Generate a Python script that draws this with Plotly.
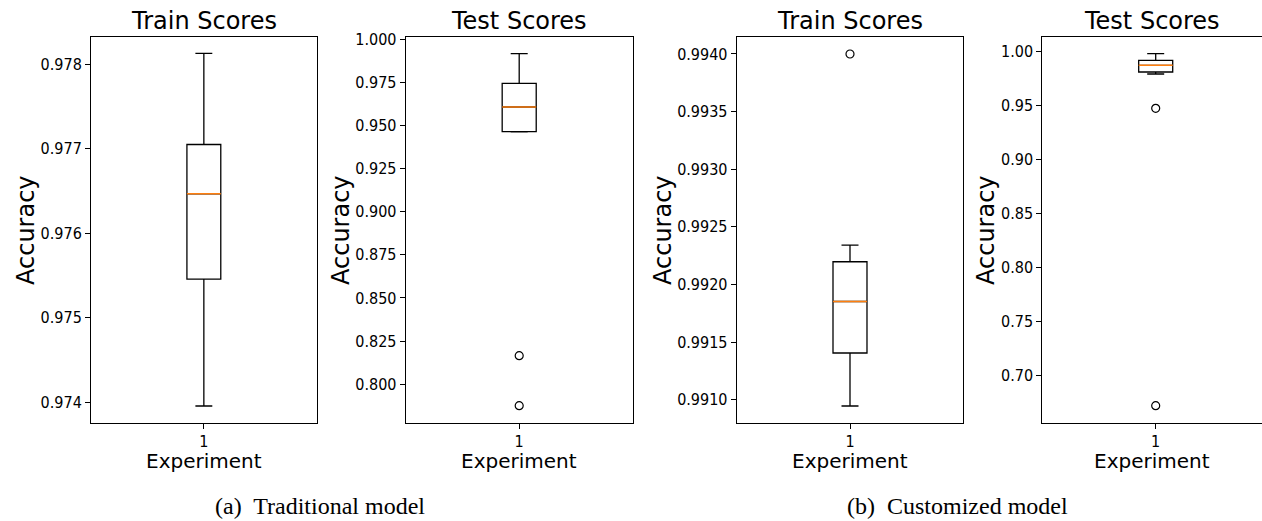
import plotly.graph_objects as go

# ---- data ----
panels = ["trad_train", "trad_test", "cust_train", "cust_test"]
titles = ["Train Scores", "Test Scores", "Train Scores", "Test Scores"]
experiment = [1]

q1_vals = [0.975455, 0.94631, 0.991405, 0.98120]
median_vals = [0.976467, 0.96061, 0.991852, 0.98741]
q3_vals = [0.977050, 0.97434, 0.992197, 0.99204]
lower_vals = [0.973953, 0.94620, 0.990945, 0.97935]
upper_vals = [0.978130, 0.99149, 0.992341, 0.99815]
outliers = [[], [0.81657, 0.78760], [0.99400], [0.94759, 0.67222]]

y_ranges = [[0.973748, 0.978327], [0.77741, 1.00133], [0.990795, 0.99415], [0.65593, 1.01389]]
y_dticks = [0.001, 0.025, 0.0005, 0.05]
y_formats = [".3f", ".3f", ".4f", ".2f"]
captions = ["(a)  Traditional model", "(b)  Customized model"]

# ---- layout geometry ----
W, H = 1262, 521
x_dom_px = [(91, 316.7), (405.7, 632.7), (736.7, 963.3), (1042.3, 1262)]
y_dom_px = (36.7, 423.3)
ylab_x_px = [26, 341, 663, 986]
caption_x_px = [213, 845]
box_width = 0.15

FONT = "DejaVu Sans"
TICKFONT = "DejaVu Sans Condensed, DejaVu Sans"
fig = go.Figure()

ydom = [1 - y_dom_px[1] / H, 1 - y_dom_px[0] / H]
for i in range(4):
    ax = "" if i == 0 else str(i + 1)
    xref, yref = "x" + ax, "y" + ax
    fig.add_trace(go.Box(
        x=experiment, q1=[q1_vals[i]], median=[median_vals[i]], q3=[q3_vals[i]],
        lowerfence=[lower_vals[i]], upperfence=[upper_vals[i]],
        width=box_width, whiskerwidth=0.5, fillcolor="white",
        line=dict(color="black", width=1.3), boxpoints=False,
        xaxis=xref, yaxis=yref, showlegend=False, hoverinfo="skip"))
    fig.add_trace(go.Scatter(
        x=[experiment[0] - box_width / 2, experiment[0] + box_width / 2],
        y=[median_vals[i], median_vals[i]], mode="lines",
        line=dict(color="#ff7f0e", width=1.4),
        xaxis=xref, yaxis=yref, showlegend=False, hoverinfo="skip"))
    if outliers[i]:
        fig.add_trace(go.Scatter(
            x=experiment * len(outliers[i]), y=outliers[i], mode="markers",
            marker=dict(symbol="circle-open", size=8, color="black", line=dict(width=1.2)),
            xaxis=xref, yaxis=yref, showlegend=False, hoverinfo="skip"))

    x0, x1 = x_dom_px[i]
    xr = [0.5, 1.5]
    if i == 3:
        xr = [0.5, 0.5 + (x1 - x0) / 226.8]
    fig.update_layout(**{
        ("xaxis" + ax): dict(domain=[x0 / W, x1 / W], range=xr, anchor=yref,
                             automargin=False, ticklabelstandoff=-2,
                             tickvals=experiment, ticktext=[str(v) for v in experiment],
                             ticks="outside", ticklen=5, tickwidth=1, tickcolor="black",
                             showline=True, linecolor="black", linewidth=1, mirror=True,
                             showgrid=False, zeroline=False,
                             tickfont=dict(family=TICKFONT, size=16, color="black")),
        ("yaxis" + ax): dict(domain=ydom, range=y_ranges[i], anchor=xref,
                             automargin=False,
                             dtick=y_dticks[i], tick0=0, tickformat=y_formats[i],
                             ticks="outside", ticklen=5, tickwidth=1, tickcolor="black",
                             showline=True, linecolor="black", linewidth=1,
                             mirror=(i != 3), showgrid=False, zeroline=False,
                             tickfont=dict(family=TICKFONT, size=16, color="black")),
    })
    xc = (x0 + min(x1, x0 + 226.8)) / 2
    # panel title
    fig.add_annotation(text=titles[i], xref="paper", yref="paper",
                       x=xc / W, y=ydom[1], xanchor="center", yanchor="bottom",
                       yshift=0, showarrow=False,
                       font=dict(family=FONT, size=24, color="black"))
    # y label
    fig.add_annotation(text="Accuracy", xref="paper", yref="paper",
                       x=ylab_x_px[i] / W, y=(ydom[0] + ydom[1]) / 2,
                       xanchor="center", yanchor="middle", textangle=-90,
                       showarrow=False, font=dict(family=FONT, size=24, color="black"))
    # x label
    fig.add_annotation(text="Experiment", xref="paper", yref="paper",
                       x=xc / W, y=1 - 447 / H, xanchor="center", yanchor="top",
                       showarrow=False, font=dict(family=FONT, size=20, color="black"))

for j, cap in enumerate(captions):
    fig.add_annotation(text=cap, xref="paper", yref="paper",
                       x=caption_x_px[j] / W, y=0, xanchor="left", yanchor="bottom",
                       showarrow=False,
                       font=dict(family="Liberation Serif", size=24, color="black"))

fig.update_layout(width=W, height=H, autosize=False,
                  margin=dict(l=0, r=0, t=0, b=0, autoexpand=False),
                  paper_bgcolor="white", plot_bgcolor="white",
                  font=dict(family=FONT))
fig.write_html("out.html")
